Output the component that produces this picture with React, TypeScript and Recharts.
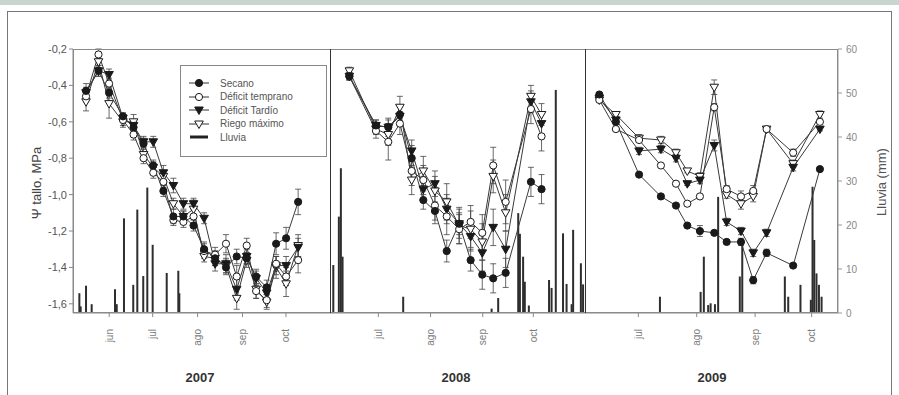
import React from 'react';
import { ComposedChart, Line, Bar, XAxis, YAxis, ErrorBar } from 'recharts';

// sampling dates as day of year, values in MPa
const days2007 = [136, 144.6, 151.9, 161.5, 168.8, 175.7, 182.4, 189.4, 196.3, 203.2, 210.2, 217.5, 225.1, 232.6, 240, 246.9, 253.4, 260.7, 267.2, 274.1, 282.4];
const secano2007 = [-0.43, -0.32, -0.44, -0.57, -0.63, -0.72, -0.84, -0.98, -1.12, -1.12, -1.17, -1.3, -1.35, -1.4, -1.34, -1.35, -1.45, -1.51, -1.27, -1.24, -1.04];
const temprano2007 = [-0.46, -0.23, -0.39, -0.59, -0.67, -0.8, -0.88, -0.93, -1.14, -1.15, -1.12, -1.31, -1.33, -1.27, -1.45, -1.28, -1.53, -1.58, -1.38, -1.45, -1.36];
const tardio2007 = [-0.44, -0.32, -0.34, -0.58, -0.62, -0.71, -0.71, -0.88, -0.95, -1.05, -1.05, -1.13, -1.38, -1.38, -1.52, -1.34, -1.46, -1.54, -1.39, -1.39, -1.29];
const riego2007 = [-0.49, -0.27, -0.5, -0.6, -0.6, -0.78, -0.85, -0.9, -1.05, -1.12, -1.08, -1.34, -1.35, -1.39, -1.57, -1.36, -1.52, -1.59, -1.4, -1.49, -1.28];
const errSecano2007 = [0.04, 0.03, 0.03, 0.02, 0.03, 0.03, 0.03, 0.03, 0.04, 0.03, 0.03, 0.04, 0.04, 0.04, 0.04, 0.03, 0.04, 0.04, 0.06, 0.06, 0.07];
const errTemprano2007 = [0.03, 0.03, 0.03, 0.03, 0.03, 0.03, 0.03, 0.03, 0.03, 0.03, 0.05, 0.04, 0.04, 0.05, 0.06, 0.04, 0.04, 0.04, 0.04, 0.05, 0.07];
const errTardio2007 = [0.03, 0.03, 0.03, 0.02, 0.03, 0.03, 0.03, 0.04, 0.04, 0.03, 0.03, 0.03, 0.04, 0.05, 0.06, 0.04, 0.04, 0.04, 0.05, 0.05, 0.05];
const errRiego2007 = [0.05, 0.04, 0.08, 0.03, 0.04, 0.03, 0.03, 0.03, 0.03, 0.03, 0.05, 0.03, 0.04, 0.04, 0.06, 0.04, 0.05, 0.04, 0.06, 0.07, 0.06];

const days2008 = [165.8, 181.6, 188.9, 195.8, 202.8, 209.7, 216.6, 223.6, 231, 237.8, 244.7, 251.2, 258.6, 273.6, 279.9];
const secano2008 = [-0.35, -0.62, -0.63, -0.56, -0.8, -1.03, -1.09, -1.31, -1.16, -1.36, -1.44, -1.46, -1.43, -0.93, -0.97];
const temprano2008 = [-0.35, -0.65, -0.71, -0.61, -0.87, -0.92, -1.06, -1.12, -1.19, -1.15, -1.21, -0.84, -1.04, -0.53, -0.68];
const tardio2008 = [-0.35, -0.62, -0.63, -0.57, -0.76, -0.97, -0.94, -1.08, -1.16, -1.23, -1.32, -1.18, -1.3, -0.49, -0.61];
const riego2008 = [-0.32, -0.64, -0.67, -0.52, -0.92, -0.87, -0.98, -1.04, -1.17, -1.19, -1.26, -0.9, -1.1, -0.46, -0.56];
const errSecano2008 = [0.02, 0.03, 0.05, 0.05, 0.07, 0.05, 0.05, 0.06, 0.06, 0.06, 0.08, 0.08, 0.08, 0.08, 0.08];
const errTemprano2008 = [0.02, 0.04, 0.1, 0.06, 0.08, 0.08, 0.1, 0.1, 0.08, 0.09, 0.1, 0.1, 0.12, 0.08, 0.08];
const errTardio2008 = [0.02, 0.03, 0.04, 0.05, 0.06, 0.07, 0.07, 0.08, 0.08, 0.08, 0.1, 0.1, 0.1, 0.06, 0.06];
const errRiego2008 = [0.02, 0.03, 0.06, 0.06, 0.08, 0.08, 0.08, 0.1, 0.1, 0.1, 0.1, 0.09, 0.1, 0.06, 0.06];

const days2009 = [161.3, 170.1, 182.4, 194, 202, 208, 214.7, 222.3, 228.9, 236.5, 243, 250.1, 264.2, 278.4];
const secano2009 = [-0.45, -0.6, -0.89, -1.01, -1.06, -1.17, -1.2, -1.21, -1.26, -1.26, -1.47, -1.32, -1.39, -0.86];
const temprano2009 = [-0.48, -0.64, -0.7, -0.84, -0.94, -1.05, -1.01, -0.52, -0.97, -1.01, -0.98, -0.64, -0.77, -0.6];
const tardio2009 = [-0.47, -0.59, -0.76, -0.75, -0.8, -0.94, -0.92, -0.73, -1.15, -1.2, -1.32, -1.21, -0.85, -0.64];
const riego2009 = [-0.48, -0.56, -0.69, -0.7, -0.77, -0.87, -0.9, -0.41, -1.0, -1.05, -1.01, -0.64, -0.83, -0.56];
const errSecano2009 = [0.01, 0.01, 0.01, 0.01, 0.01, 0.01, 0.03, 0.01, 0.01, 0.02, 0.02, 0.02, 0.01, 0.01];
const errTemprano2009 = [0.01, 0.01, 0.01, 0.01, 0.01, 0.01, 0.01, 0.02, 0.02, 0.03, 0.03, 0.01, 0.02, 0.01];
const errTardio2009 = [0.01, 0.01, 0.02, 0.02, 0.02, 0.01, 0.02, 0.03, 0.02, 0.02, 0.02, 0.02, 0.02, 0.01];
const errRiego2009 = [0.01, 0.01, 0.02, 0.02, 0.02, 0.01, 0.02, 0.04, 0.02, 0.03, 0.03, 0.01, 0.02, 0.02];

// rain (mm) by day of year
const rainDays2007 = [131.4, 132.3, 136, 139.9, 156, 157.2, 162.2, 168.6, 171.4, 175.5, 178.3, 182, 191.7, 199.7, 200.4];
const rainMm2007 = [4.5, 1.5, 6.2, 2, 5.4, 2, 21.5, 6.4, 23.5, 8.4, 28.5, 15.5, 9.1, 9.6, 4.5];
const rainDays2008 = [156.3, 159.6, 160.8, 161.8, 197.8, 250.3, 254.2, 266.1, 267.1, 269, 270, 272.4, 284.4, 285.9, 288.4, 292.7, 294.8, 297.8, 298.7, 303.3, 304.6];
const rainMm2008 = [10.9, 21.9, 32.9, 12.8, 3.7, 1, 3.4, 22.7, 18, 12.8, 7.1, 1.7, 7.5, 5.7, 50.7, 18.1, 6.6, 2, 18.9, 11.3, 6.5];
const rainDays2009 = [193.5, 215.1, 216.8, 219.1, 220.4, 222.7, 224.4, 235.9, 237.2, 259.8, 261.6, 268.1, 273.6, 274.5, 275.4, 276.6, 277.9, 279.3];
const rainMm2009 = [3.7, 4.8, 12.8, 1.8, 2.2, 2, 26.4, 8.3, 16, 8.3, 3.7, 6.4, 3, 28.7, 16.6, 9, 6.4, 3.7];

const monthTicks2007 = [152, 182, 213, 244, 274];
const monthNames2007 = ['jun', 'jul', 'ago', 'sep', 'oct'];
const monthTicks2008 = [183, 214, 245, 275];
const monthTicks2009 = [182, 213, 244, 274];
const monthNames = ['jul', 'ago', 'sep', 'oct'];

const psiTicks = [-1.6, -1.4, -1.2, -1.0, -0.8, -0.6, -0.4, -0.2];
const rainTicks = [0, 10, 20, 30, 40, 50, 60];

const FONT = '"Liberation Sans", Arial, sans-serif';
const INK = '#1a1a1a';

const circleDot = (fill: string) => (p: any) => (
  <circle key={`c${p.index}`} cx={p.cx} cy={p.cy} r={3.6} fill={fill} stroke={INK} strokeWidth={1} />
);
const triDot = (fill: string) => (p: any) => (
  <polygon
    key={`t${p.index}`}
    points={`${p.cx - 4.3},${p.cy - 3} ${p.cx + 4.3},${p.cy - 3} ${p.cx},${p.cy + 4.5}`}
    fill={fill}
    stroke={INK}
    strokeWidth={1}
  />
);

// thin rain bar, 2px wide, centred on its date
const RainBar = (p: any) => {
  if (!p.height) return <g />;
  return <rect x={p.x + p.width / 2 - 1} y={p.y} width={2} height={p.height} fill="#2e2e2e" />;
};

const SERIES = [
  { name: 'Riego máximo', dot: triDot('#fff'), idx: 3 },
  { name: 'Déficit Tardío', dot: triDot(INK), idx: 2 },
  { name: 'Déficit temprano', dot: circleDot('#fff'), idx: 1 },
  { name: 'Secano', dot: circleDot(INK), idx: 0 },
];

const rows = (days: number[], vals: number[], errs: number[]) =>
  days.map((d, i) => ({ day: d, v: vals[i], e: errs[i] }));

const panels = [
  {
    year: '2007', left: 0, width: 330, domain: [127, 304.4], ticks: monthTicks2007, names: monthNames2007,
    left_axis: true, right_axis: false,
    series: [
      rows(days2007, secano2007, errSecano2007),
      rows(days2007, temprano2007, errTemprano2007),
      rows(days2007, tardio2007, errTardio2007),
      rows(days2007, riego2007, errRiego2007),
    ],
    rain: rainDays2007.map((d, i) => ({ day: d, mm: rainMm2007[i] })),
  },
  {
    year: '2008', left: 330, width: 255, domain: [154.3, 305.7], ticks: monthTicks2008, names: monthNames,
    left_axis: false, right_axis: false,
    series: [
      rows(days2008, secano2008, errSecano2008),
      rows(days2008, temprano2008, errTemprano2008),
      rows(days2008, tardio2008, errTardio2008),
      rows(days2008, riego2008, errRiego2008),
    ],
    rain: rainDays2008.map((d, i) => ({ day: d, mm: rainMm2008[i] })),
  },
  {
    year: '2009', left: 585, width: 314, domain: [153.7, 288], ticks: monthTicks2009, names: monthNames,
    left_axis: false, right_axis: true,
    series: [
      rows(days2009, secano2009, errSecano2009),
      rows(days2009, temprano2009, errTemprano2009),
      rows(days2009, tardio2009, errTardio2009),
      rows(days2009, riego2009, errRiego2009),
    ],
    rain: rainDays2009.map((d, i) => ({ day: d, mm: rainMm2009[i] })),
  },
];

const MonthTick = (props: any) => {
  const { x, y, payload, names, ticks } = props;
  const label = names[ticks.indexOf(payload.value)];
  const ty = y + 10;
  return (
    <text x={x} y={ty} transform={`rotate(-90 ${x} ${ty})`} textAnchor="end" dominantBaseline="central"
      fontSize={10} fill="#7a7a7a" fontFamily={FONT}>
      {label}
    </text>
  );
};

const Panel = ({ p }: { p: typeof panels[number] }) => (
  <div style={{ position: 'absolute', left: p.left, top: 0 }}>
    <ComposedChart width={p.width} height={395} data={p.rain} margin={{ top: 49, right: 0, bottom: 42, left: 0 }}>
      <XAxis
        type="number" dataKey="day" domain={p.domain} allowDataOverflow ticks={p.ticks} interval={0}
        height={40} tickSize={4} tickMargin={2} stroke="#888"
        tick={(tp: any) => <MonthTick {...tp} names={p.names} ticks={p.ticks} />}
      />
      <YAxis
        yAxisId="psi" type="number" domain={[-1.6505, -0.2]} allowDataOverflow ticks={psiTicks}
        tickFormatter={(v: number) => v.toFixed(1).replace('.', ',')}
        hide={!p.left_axis} width={73} tickSize={4} tickMargin={2} stroke="#888"
        tick={{ fontSize: 11, fill: '#555', fontFamily: FONT }}
      />
      <YAxis
        yAxisId="rain" orientation="right" type="number" domain={[0, 60]} allowDataOverflow ticks={rainTicks}
        hide={!p.right_axis} width={61} tickSize={4} tickMargin={4} stroke="#999"
        tick={{ fontSize: 10, fill: '#888', fontFamily: FONT }}
      />
      <Bar yAxisId="rain" dataKey="mm" barSize={2} shape={RainBar} isAnimationActive={false} />
      {SERIES.map((s) => (
        <Line
          key={s.name} name={s.name} yAxisId="psi" data={p.series[s.idx]} dataKey="v" type="linear"
          stroke="#3a3a3a" strokeWidth={1} dot={s.dot} activeDot={false} isAnimationActive={false}
        >
          <ErrorBar dataKey="e" width={3} stroke="#444" strokeWidth={0.8} direction="y" />
        </Line>
      ))}
    </ComposedChart>
  </div>
);

const LegendIcon = ({ i }: { i: number }) => {
  if (i === 4) {
    return <svg width={20} height={10}><line x1={1} y1={5} x2={19} y2={5} stroke="#222" strokeWidth={3} /></svg>;
  }
  const s = [...SERIES].reverse()[i];
  return (
    <svg width={20} height={10}>
      <line x1={0} y1={5} x2={20} y2={5} stroke="#333" strokeWidth={1} />
      {s.dot({ cx: 10, cy: 5, index: i })}
    </svg>
  );
};

const legendNames = ['Secano', 'Déficit temprano', 'Déficit Tardío', 'Riego máximo', 'Lluvia'];

export default function App() {
  return (
    <div style={{ position: 'absolute', left: 0, top: 0, width: 899, height: 395, background: '#fff', overflow: 'hidden', fontFamily: FONT }}>
      <div style={{ position: 'absolute', left: 0, top: 0, width: 899, height: 5, background: '#c8d6cf' }} />
      <div style={{ position: 'absolute', left: 7, top: 11, width: 885, height: 400, border: '1.5px solid #777', boxSizing: 'border-box' }} />
      {panels.map((p) => <Panel key={p.year} p={p} />)}
      <div style={{ position: 'absolute', left: 73, top: 49, width: 765, height: 264, border: '1px solid #8a8a8a', boxSizing: 'border-box', pointerEvents: 'none' }} />
      <div style={{ position: 'absolute', left: 329.5, top: 49, width: 1.5, height: 264, background: '#333' }} />
      <div style={{ position: 'absolute', left: 584.5, top: 49, width: 1.5, height: 264, background: '#333' }} />
      <div style={{ position: 'absolute', left: 180, top: 65, width: 147, height: 92, border: '1px solid #888', background: '#fff', boxSizing: 'border-box' }}>
        {legendNames.map((n, i) => (
          <div key={n} style={{ position: 'absolute', left: 8, top: 11 + i * 13.5, height: 12, display: 'flex', alignItems: 'center' }}>
            <LegendIcon i={i} />
            <span style={{ marginLeft: 11, fontSize: 10, color: '#555', whiteSpace: 'nowrap' }}>{n}</span>
          </div>
        ))}
      </div>
      <div style={{ position: 'absolute', left: 36, top: 183, transform: 'translate(-50%, -50%) rotate(-90deg)', fontSize: 13, color: '#444', whiteSpace: 'nowrap' }}>Ψ tallo, MPa</div>
      <div style={{ position: 'absolute', left: 881, top: 182, transform: 'translate(-50%, -50%) rotate(-90deg)', fontSize: 13, color: '#555', whiteSpace: 'nowrap' }}>Lluvia (mm)</div>
      {[['2007', 200], ['2008', 456], ['2009', 712]].map(([y, x]) => (
        <div key={y} style={{ position: 'absolute', left: x as number, top: 377, transform: 'translate(-50%, -50%)', fontSize: 13, fontWeight: 'bold', color: '#333' }}>{y}</div>
      ))}
    </div>
  );
}
